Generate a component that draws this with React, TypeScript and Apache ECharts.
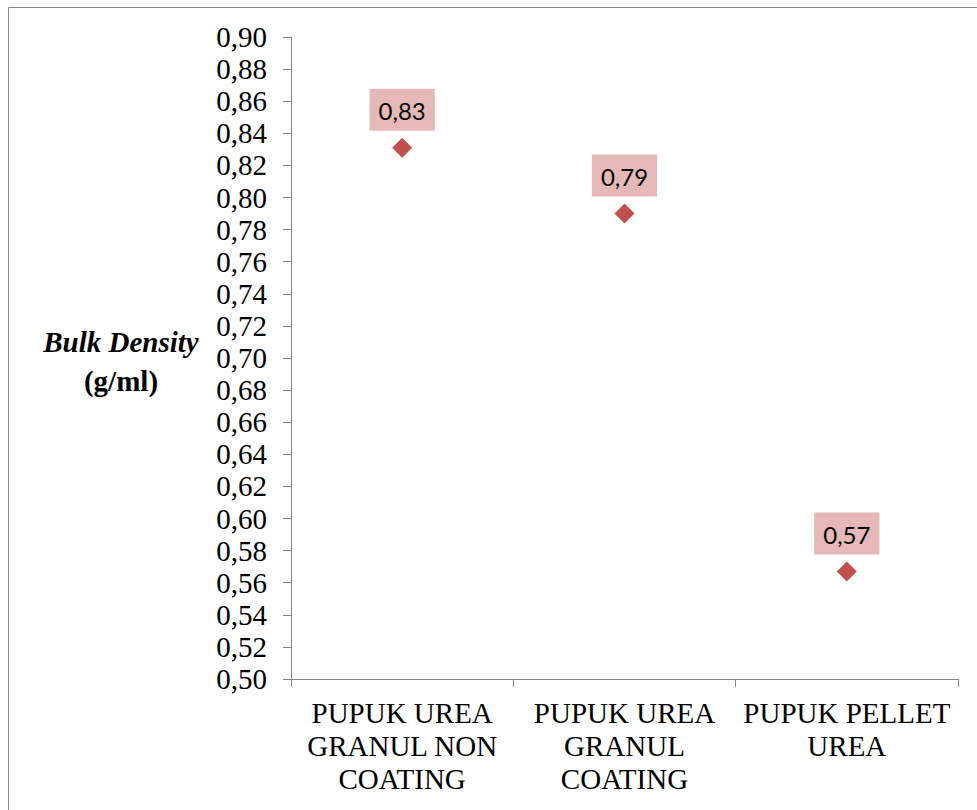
import React, { useEffect, useRef } from "react";
import * as echarts from "echarts";

const categories = [
  "PUPUK UREA\nGRANUL NON\nCOATING",
  "PUPUK UREA\nGRANUL\nCOATING",
  "PUPUK PELLET\nUREA",
];
const bulkDensity = [0.831, 0.79, 0.567];
const yMin = 0.5;
const yMax = 0.9;
const yStep = 0.02;
const yTitle = ["Bulk Density", "(g/ml)"];

const fmt = (v: number) => v.toFixed(2).replace(".", ",");

export default function App() {
  const ref = useRef<HTMLDivElement>(null);
  useEffect(() => {
    if (!ref.current) return;
    const chart = echarts.init(ref.current, undefined, { renderer: "svg" });
    const serif = "Liberation Serif";
    const axisColor = "#868686";
    chart.setOption({
      animation: false,
      backgroundColor: "#ffffff",
      grid: { left: 291, top: 37, width: 667, height: 642, containLabel: false },
      xAxis: {
        type: "category",
        data: categories,
        boundaryGap: true,
        axisLine: { lineStyle: { color: axisColor, width: 1 } },
        axisTick: { show: true, alignWithLabel: false, length: 8, lineStyle: { color: axisColor } },
        axisLabel: {
          interval: 0,
          color: "#000",
          fontFamily: serif,
          fontSize: 29,
          lineHeight: 33,
          margin: 17,
        },
        splitLine: { show: false },
      },
      yAxis: {
        type: "value",
        min: yMin,
        max: yMax,
        interval: yStep,
        axisLine: { show: true, lineStyle: { color: axisColor, width: 1 } },
        axisTick: { show: true, length: 8, lineStyle: { color: axisColor } },
        axisLabel: {
          color: "#000",
          fontFamily: serif,
          fontSize: 29,
          margin: 24,
          formatter: (v: number) => fmt(v),
        },
        splitLine: { show: false },
      },
      graphic: [
        {
          type: "rect",
          shape: { x: 8.5, y: 7.5, width: 1200, height: 1200 },
          style: { fill: "none", stroke: "#8a8a8a", lineWidth: 1 },
          silent: true,
        },
        {
          type: "text",
          x: 121,
          y: 342,
          style: {
            text: yTitle[0],
            fontFamily: serif,
            fontSize: 29,
            fontStyle: "italic",
            fontWeight: "bold",
            fill: "#000",
            align: "center",
            verticalAlign: "middle",
          },
        },
        {
          type: "text",
          x: 121,
          y: 381,
          style: {
            text: yTitle[1],
            fontFamily: serif,
            fontSize: 29,
            fontWeight: "bold",
            fill: "#000",
            align: "center",
            verticalAlign: "middle",
          },
        },
      ],
      series: [
        {
          type: "scatter",
          data: bulkDensity,
          symbol: "diamond",
          symbolSize: 20,
          itemStyle: { color: "#c0504d", opacity: 1 },
          label: {
            show: true,
            position: "top",
            distance: 7,
            formatter: (p: any) => fmt(p.value),
            color: "#000",
            fontFamily: "Lato",
            fontSize: 24,
            lineHeight: 24,
            backgroundColor: "#e6b9b8",
            padding: [10, 9, 8, 9],
          },
        },
      ],
    });
    return () => chart.dispose();
  }, []);
  return (
    <div
      ref={ref}
      style={{ position: "absolute", left: 0, top: 0, width: 977, height: 810 }}
    />
  );
}
